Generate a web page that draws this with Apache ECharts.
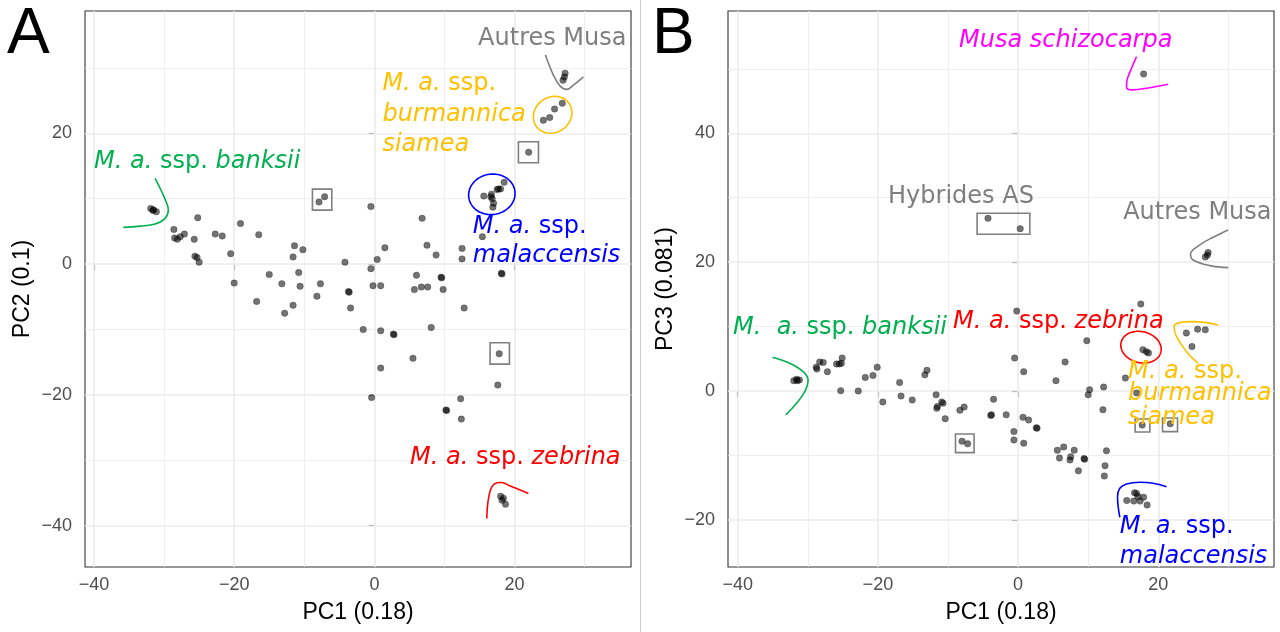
<!DOCTYPE html>
<html>
<head>
<meta charset="utf-8">
<script src="https://cdn.jsdelivr.net/npm/echarts@6/dist/echarts.min.js"></script>
<style>
  html, body { margin: 0; padding: 0; background: #ffffff; }
  #chart { width: 1280px; height: 632px; }
</style>
</head>
<body>
<div id="chart"></div>
<script>
// ---- Axis ticks ----
const majorX = [-40, -20, 0, 20];
const minorX = [-30, -10, 10, 30];
const majorYA = [-40, -20, 0, 20];
const minorYA = [-30, -10, 10, 30];
const majorYB = [-20, 0, 20, 40];
const minorYB = [-10, 10, 30, 50];

// ---- PCA scores, PC1 vs PC2 ----
const scoresA = [
  [-31.9, 8.5], [-31.5, 8.3], [-31.1, 8.0], [-31.6, 8.2],
  [-25.2, 7.1], [-28.6, 5.3], [-28.5, 4.0], [-28.1, 3.8], [-27.7, 4.2], [-27.1, 4.6],
  [-25.7, 3.8], [-22.7, 4.6], [-21.7, 4.3], [-19.1, 6.2], [-16.5, 4.5], [-11.4, 2.8],
  [-10.2, 2.2], [-11.6, 1.1], [-4.2, 0.3], [-25.6, 1.2], [-25.3, 1.0], [-25.0, 0.3],
  [-20.5, 1.6], [-20.0, -2.9], [-15.0, -1.6], [-13.2, -3.0], [-10.8, -1.3], [-10.6, -3.4],
  [-7.7, -3.0], [-8.2, -4.9], [-3.7, -4.2], [-3.6, -4.3],
  [-16.8, -5.7], [-11.6, -6.3], [-12.8, -7.5], [-3.4, -6.7],
  [-7.9, 9.5], [-7.1, 10.3],
  [26.9, 28.1], [27.1, 28.6], [27.2, 29.2],
  [24.1, 22.0], [25.0, 22.4], [25.7, 23.7], [26.8, 24.6],
  [22.0, 17.1],
  [15.6, 10.4], [16.7, 10.7], [16.8, 10.0], [17.0, 9.3], [16.9, 8.7], [17.5, 11.4],
  [18.0, 11.5], [18.5, 12.5], [17.7, 11.5], [16.6, 10.3],
  [15.4, 4.2], [-0.5, 8.8], [6.8, 7.0], [1.5, 2.5], [7.5, 2.9], [8.8, 1.4], [12.5, 2.4],
  [12.5, 0.8], [0.4, 0.7], [-0.5, -0.7], [-0.2, -3.3], [0.9, -3.3], [5.7, -3.9], [6.7, -3.5],
  [7.6, -3.5], [6.0, -1.7], [9.5, -2.0], [9.6, -2.1], [9.8, -3.9], [18.1, -1.4], [18.2, -1.5],
  [12.8, -6.7], [-1.6, -10.0], [0.9, -10.2], [2.7, -10.7], [2.8, -10.8], [8.1, -9.7],
  [5.5, -14.4], [0.9, -15.9],
  [17.8, -13.7],
  [17.6, -18.5], [-0.4, -20.4], [12.3, -20.6], [10.2, -22.3], [10.3, -22.4], [12.4, -23.7],
  [18.0, -35.5], [18.4, -35.8], [18.7, -36.7], [18.2, -36.1]
];

// ---- PCA scores, PC1 vs PC3 ----
const scoresB = [
  [-32.0, 1.6], [-31.6, 1.8], [-31.2, 1.7], [-31.5, 1.6],
  [-28.8, 3.7], [-28.7, 3.4], [-28.3, 4.5], [-27.8, 4.4], [-27.2, 3.0], [-25.9, 4.2],
  [-25.5, 4.2], [-25.2, 4.3], [-25.1, 5.1], [-25.3, 0.05], [-22.8, 0.0], [-21.8, 2.1],
  [-20.7, 2.4], [-20.1, 3.7], [-19.3, -1.7], [-16.9, 1.3], [-16.7, -0.8], [-15.1, -1.4],
  [-13.3, 2.5], [-13.0, 3.2], [-11.7, -0.6], [-11.6, -2.7], [-11.5, -2.4], [-10.9, -1.7],
  [-10.7, -1.9], [-10.4, -4.3], [-8.3, -3.0], [-7.7, -2.5],
  [-8.0, -7.8], [-7.2, -8.2],
  [-3.8, -3.7], [-3.9, -3.8], [-3.5, -1.3], [-1.7, -3.7], [-0.2, 12.4], [-0.5, 5.1],
  [0.8, 3.0], [0.7, -4.1], [1.5, -4.5], [2.6, -5.7], [2.7, -5.8], [-0.6, -6.3], [-0.6, -7.6],
  [0.8, -8.1], [5.4, 1.6], [6.7, 4.5], [9.8, 7.8], [10.2, 0.2], [10.0, -0.6], [12.2, 0.6],
  [12.1, -2.9], [5.6, -9.2], [6.5, -8.7], [5.9, -10.4], [7.4, -10.7], [7.5, -10.2], [8.0, -9.2],
  [8.6, -12.4], [9.4, -10.5], [9.5, -10.6], [12.6, -9.3], [12.4, -11.6], [12.3, -13.2],
  [15.3, 2.0], [17.5, 13.5], [16.9, -0.3],
  [17.8, 6.4], [18.3, 6.1], [18.6, 5.9],
  [24.0, 9.0], [25.6, 9.6], [26.7, 9.5], [24.8, 6.9],
  [17.7, -5.3], [21.7, -5.1],
  [15.5, -17.0], [16.5, -17.1], [16.9, -15.9], [16.6, -15.8], [17.4, -17.1], [17.9, -16.5],
  [18.4, -17.7], [17.1, -16.4],
  [-4.3, 26.8], [0.3, 25.2],
  [17.9, 49.2],
  [27.1, 21.5], [26.7, 20.8], [27.0, 21.1]
];

// ---- Group annotations (data coordinates) ----
const curvesA = {
  autres:  [[24.39, 31.96], [25.53, 28.90], [26.49, 27.22], [27.44, 26.71], [28.39, 27.37], [29.81, 28.64]],
  banksii: [[-31.28, 13.10], [-30.33, 11.06], [-29.71, 9.53], [-29.39, 8.26], [-29.86, 6.99], [-31.28, 6.12], [-33.42, 5.81], [-35.81, 5.61]],
  zebrina: [[16.03, -38.88], [16.12, -37.11], [16.36, -35.32], [16.75, -34.05], [17.46, -33.44], [18.17, -33.38], [19.36, -33.94], [21.97, -35.06]]
};
const curvesB = {
  schizocarpa: [[16.89, 51.91], [16.18, 50.11], [15.55, 48.29], [15.46, 47.16], [16.41, 46.74], [18.32, 47.00], [21.40, 47.62]],
  autres:      [[29.96, 25.00], [27.82, 23.87], [25.92, 22.67], [24.59, 21.27], [24.96, 20.34], [27.35, 19.46], [29.96, 19.15]],
  banksii:     [[-35.04, 5.23], [-32.57, 4.30], [-30.67, 3.00], [-29.96, 1.71], [-30.43, -0.11], [-31.61, -1.91], [-33.14, -3.73]],
  burmannica:  [[28.53, 10.25], [26.88, 10.61], [24.96, 10.76], [23.07, 10.61], [22.25, 9.98], [22.60, 8.43], [24.02, 6.10], [25.68, 4.30]],
  malaccensis: [[21.17, -14.86], [19.26, -14.33], [17.36, -14.18], [15.46, -14.44], [14.51, -15.11], [14.18, -16.41], [14.27, -17.97], [14.51, -19.61]]
};
// ellipse: centre x, centre y, half-width, half-height
const ellipsesA = {
  burmannica:  [25.42, 22.83, 2.85, 2.70],
  malaccensis: [16.75, 10.67, 3.32, 3.09]
};
const ellipsesB = {
  zebrina: [17.53, 6.80, 2.92, 2.41]
};
// box: xmin, xmax, ymin, ymax
const boxesA = [
  [-8.84, -6.08, 8.26, 11.47],
  [20.54, 23.40, 15.49, 18.70],
  [16.50, 19.26, -15.29, -12.03]
];
const boxesB = [
  [-5.85, 1.67, 24.33, 27.59],
  [-8.93, -6.28, -9.58, -6.68],
  [16.69, 18.79, -6.37, -4.35],
  [20.60, 22.74, -6.32, -4.19]
];
// labels: group, rich text, anchor (left edge, vertical middle)
const labelsA = [
  ['autres', 'Autres Musa', [14.79, 34.4]],
  ['burmannica', '{i|M. a.} {n|ssp.}', [1.14, 27.5]],
  ['burmannica', '{i|burmannica}', [1.14, 22.9]],
  ['burmannica', '{i|siamea}', [1.14, 18.3]],
  ['banksii', '{i|M. a.} {n|ssp.} {i|banksii}', [-39.99, 15.6]],
  ['malaccensis', '{i|M. a.} {n|ssp.}', [14.04, 5.7]],
  ['malaccensis', '{i|malaccensis}', [14.04, 1.25]],
  ['zebrina', '{i|M. a.} {n|ssp.} {i|zebrina}', [5.09, -29.56]]
];
const labelsB = [
  ['schizocarpa', '{i|Musa schizocarpa}', [-8.42, 54.35]],
  ['hybrides', 'Hybrides AS', [-18.55, 30.1]],
  ['autres', 'Autres Musa', [14.98, 27.6]],
  ['banksii', '{i|M.}  {i|a.} {n|ssp.} {i|banksii}', [-40.66, 9.75]],
  ['zebrina', '{i|M. a.} {n|ssp.} {i|zebrina}', [-9.27, 10.76]],
  ['burmannica', '{i|M. a.} {n|ssp.}', [15.69, 3.0]],
  ['burmannica', '{i|burmannica}', [15.69, -0.43]],
  ['burmannica', '{i|siamea}', [15.69, -4.19]],
  ['malaccensis', '{i|M. a.} {n|ssp.}', [14.51, -21.15]],
  ['malaccensis', '{i|malaccensis}', [14.51, -25.73]]
];

// ---- Styles ----
const groupColor = {
  autres: '#7F7F7F', hybrides: '#7F7F7F', banksii: '#00B050', burmannica: '#FFC000',
  malaccensis: '#0000FF', zebrina: '#FF0000', schizocarpa: '#FF00FF'
};
const ellipseTilt = { burmannica: 0.6, malaccensis: 0.15, zebrina: -0.25 };
const GRID_COL = '#EBEBEB';
const AXIS_FONT = 'Liberation Sans, Arial, sans-serif';
const NOTE_FONT = 'DejaVu Sans, sans-serif';

const minusFmt = v => (v < 0 ? '\u2212' + Math.abs(v) : String(v));

function gridMarkLines(majX, minX, majY, minY) {
  const d = [];
  minX.forEach(v => d.push({ xAxis: v, lineStyle: { width: 0.8 } }));
  minY.forEach(v => d.push({ yAxis: v, lineStyle: { width: 0.8 } }));
  majX.forEach(v => d.push({ xAxis: v, lineStyle: { width: 1.6 } }));
  majY.forEach(v => d.push({ yAxis: v, lineStyle: { width: 1.6 } }));
  return {
    z: 1, silent: true, symbol: 'none', animation: false,
    label: { show: false },
    lineStyle: { color: GRID_COL, type: 'solid' },
    emphasis: { disabled: true },
    data: d
  };
}

function xAxisFor(gi, min, max, ticks) {
  return {
    type: 'value', gridIndex: gi, min, max,
    axisLine: { show: false },
    splitLine: { show: false },
    axisTick: { show: true, customValues: ticks, length: 6, lineStyle: { color: '#333', width: 1.1 } },
    axisLabel: { customValues: ticks, formatter: minusFmt, color: '#4D4D4D', fontSize: 18, fontFamily: AXIS_FONT, margin: 9 },
    name: 'PC1 (0.18)', nameLocation: 'middle', nameGap: 34,
    nameTextStyle: { color: '#000', fontSize: 23, fontFamily: AXIS_FONT }
  };
}
function yAxisFor(gi, min, max, ticks, name) {
  return {
    type: 'value', gridIndex: gi, min, max,
    axisLine: { show: false },
    splitLine: { show: false },
    axisTick: { show: true, customValues: ticks, length: 6, lineStyle: { color: '#333', width: 1.1 } },
    axisLabel: { customValues: ticks, formatter: minusFmt, color: '#4D4D4D', fontSize: 18, fontFamily: AXIS_FONT, margin: 13 },
    name, nameLocation: 'middle', nameGap: 51,
    nameTextStyle: { color: '#000', fontSize: 23, fontFamily: AXIS_FONT }
  };
}

function curveSeries(curves, gi) {
  return Object.keys(curves).map(k => ({
    type: 'line', xAxisIndex: gi, yAxisIndex: gi, z: 4,
    data: curves[k], smooth: 0.4, symbol: 'none', silent: true, animation: false,
    lineStyle: { color: groupColor[k], width: 1.6, opacity: 1 }
  }));
}

function ellipseSeries(ells, gi) {
  const keys = Object.keys(ells);
  return {
    type: 'custom', xAxisIndex: gi, yAxisIndex: gi, z: 4, silent: true, animation: false,
    data: keys.map(k => ells[k]),
    renderItem(params, api) {
      const k = keys[params.dataIndex];
      const c = api.coord([api.value(0), api.value(1)]);
      const s = api.size([api.value(2), api.value(3)]);
      const r = ellipseTilt[k] || 0;
      const pts = [];
      for (let i = 0; i < 90; i++) {
        const t = (i / 90) * Math.PI * 2;
        const ex = s[0] * Math.cos(t), ey = s[1] * Math.sin(t);
        pts.push([c[0] + ex * Math.cos(r) + ey * Math.sin(r), c[1] - ex * Math.sin(r) + ey * Math.cos(r)]);
      }
      return { type: 'polygon', shape: { points: pts }, style: { fill: 'none', stroke: groupColor[k], lineWidth: 1.6 } };
    }
  };
}

function boxSeries(boxes, gi) {
  return {
    type: 'custom', xAxisIndex: gi, yAxisIndex: gi, z: 4, silent: true, animation: false,
    data: boxes,
    renderItem(params, api) {
      const p1 = api.coord([api.value(0), api.value(3)]);
      const p2 = api.coord([api.value(1), api.value(2)]);
      return {
        type: 'rect',
        shape: { x: p1[0], y: p1[1], width: p2[0] - p1[0], height: p2[1] - p1[1] },
        style: { fill: 'none', stroke: '#7F7F7F', lineWidth: 1.6 }
      };
    }
  };
}

function labelSeries(labels, gi) {
  return {
    type: 'scatter', xAxisIndex: gi, yAxisIndex: gi, z: 5, silent: true, animation: false,
    symbolSize: 0,
    itemStyle: { opacity: 1 },
    data: labels.map(([g, text, at]) => {
      const col = groupColor[g];
      return {
        value: at,
        label: {
          show: true, position: 'right', distance: 0, formatter: text,
          color: col, fontSize: 24, fontFamily: NOTE_FONT,
          rich: {
            i: { color: col, fontSize: 24, fontFamily: NOTE_FONT, fontStyle: 'italic' },
            n: { color: col, fontSize: 24, fontFamily: NOTE_FONT }
          }
        }
      };
    }),
    labelLayout: { hideOverlap: false }
  };
}

function pointSeries(data, gi, grid) {
  return {
    type: 'scatter', xAxisIndex: gi, yAxisIndex: gi, z: 3, animation: false,
    data, symbolSize: 6.5,
    itemStyle: { color: 'rgba(0,0,0,0.55)', borderColor: 'rgba(0,0,0,0.3)', borderWidth: 0.8, opacity: 1 },
    markLine: grid
  };
}

const chart = echarts.init(document.getElementById('chart'), null, { renderer: 'canvas' });
chart.setOption({
  animation: false,
  backgroundColor: '#ffffff',
  grid: [
    { left: 85, top: 11, width: 546, height: 556, show: true, borderColor: '#333', borderWidth: 1.1, backgroundColor: 'transparent' },
    { left: 728, top: 11, width: 546, height: 556, show: true, borderColor: '#333', borderWidth: 1.1, backgroundColor: 'transparent' }
  ],
  xAxis: [
    xAxisFor(0, -41.28, 36.6, majorX),
    xAxisFor(1, -41.38, 36.5, majorX)
  ],
  yAxis: [
    yAxisFor(0, -46.31, 38.70, majorYA, 'PC2 (0.1)'),
    yAxisFor(1, -27.33, 58.99, majorYB, 'PC3 (0.081)')
  ],
  graphic: [
    { type: 'line', shape: { x1: 640.5, y1: 0, x2: 640.5, y2: 632 }, style: { stroke: '#CCCCCC', lineWidth: 1 }, silent: true },
    { type: 'text', left: 7, top: 3, style: { text: 'A', font: '64px "Liberation Sans", Arial, sans-serif', fill: '#000' }, silent: true },
    { type: 'text', left: 652, top: 3, style: { text: 'B', font: '64px "Liberation Sans", Arial, sans-serif', fill: '#000' }, silent: true }
  ],
  series: [
    pointSeries(scoresA, 0, gridMarkLines(majorX, minorX, majorYA, minorYA)),
    pointSeries(scoresB, 1, gridMarkLines(majorX, minorX, majorYB, minorYB)),
    ...curveSeries(curvesA, 0),
    ...curveSeries(curvesB, 1),
    ellipseSeries(ellipsesA, 0),
    ellipseSeries(ellipsesB, 1),
    boxSeries(boxesA, 0),
    boxSeries(boxesB, 1),
    labelSeries(labelsA, 0),
    labelSeries(labelsB, 1)
  ]
});
</script>
</body>
</html>
